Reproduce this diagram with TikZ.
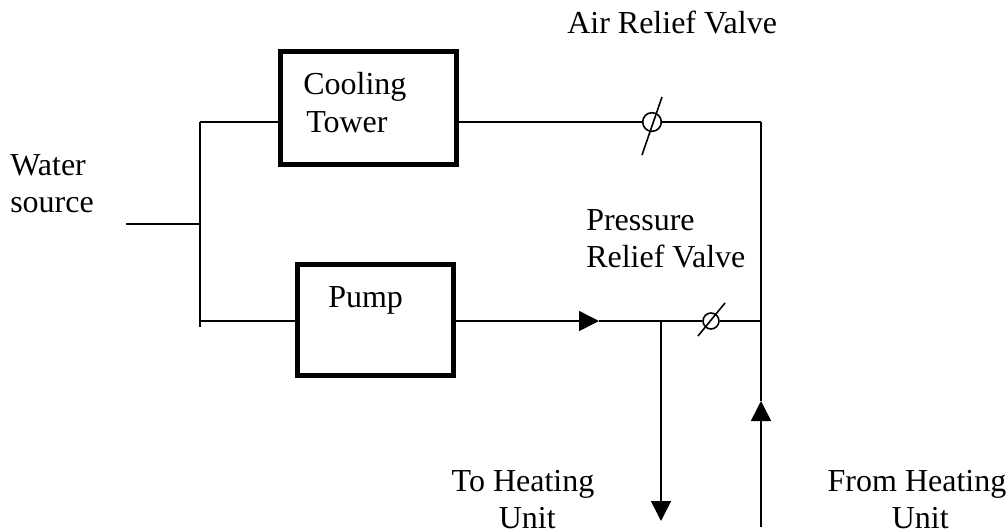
\documentclass[tikz,border=0pt]{standalone}
\usepackage{fontspec}
\setmainfont{Liberation Serif}
\usetikzlibrary{arrows.meta, positioning, calc}
\tikzset{
    pipe/.style={line width=1.2pt},
    flowpipe/.style={pipe, -{Triangle[length=15pt, width=15pt]}},
    unitbox/.style={draw, rectangle, line width=3.75pt, inner sep=0pt},
    valve/.style={draw, circle, line width=1.2pt, inner sep=0pt},
    lbl/.style={inner sep=0pt, font=\fontsize{24}{27.75}\selectfont}
}
\begin{document}
\begin{tikzpicture}[x=0.75pt, y=-0.75pt]
        \useasboundingbox (0,0) rectangle (1008,529);
        % Nodes
        \node[unitbox, minimum width=132pt, minimum height=84.75pt] (tower) at (368.5,108) {};
        \node[unitbox, minimum width=117pt, minimum height=83.25pt] (pump) at (375,320) {};
        \node[valve, minimum size=14pt] (airvalve) at (652,122) {};
        \node[valve, minimum size=12pt] (pressvalve) at (711,321) {};

        % Labels
        \node[lbl, anchor=base west] (airlabel) at (567,33) {Air Relief Valve};
        \node[lbl, anchor=base west] (coolinglabel) at (303,94) {Cooling};
        \node[lbl, anchor=base west] (towerlabel) at (306,132) {Tower};
        \node[lbl, anchor=base west] (pumplabel) at (328,307) {Pump};
        \node[lbl, align=left, anchor=west] (sourcelabel) at (10,184) {Water\\source};
        \node[lbl, align=left, anchor=west] (presslabel) at (586,239) {Pressure\\Relief Valve};
        \node[lbl, align=center] (tolabel) at (523,500) {To Heating\\\hspace*{6.5pt}Unit};
        \node[lbl, align=center] (fromlabel) at (917,500) {From Heating\\\hspace*{5pt}Unit};

        % Free ends
        \coordinate (inlet) at (126,224);
        \coordinate (inletjoin) at (200,224);
        \coordinate (towerjoin) at (200,122);
        \coordinate (pumpjoin) at (200,321);
        \coordinate (splitend) at (200,327);
        \coordinate (corner) at (761,122);
        \coordinate (pumpflow) at (599,321);
        \coordinate (tee) at (661,321);
        \coordinate (teeright) at (761,321);
        \coordinate (supplytip) at (661,521);
        \coordinate (returnend) at (761,527);
        \coordinate (returntip) at (761,401);
        \coordinate (airslasha) at (642,155);
        \coordinate (airslashb) at (662,97);
        \coordinate (pressslasha) at (698,336);
        \coordinate (pressslashb) at (725,303);

        % Pipes
        \draw[pipe] (inlet) -- (inletjoin);
        \draw[pipe] (towerjoin) -- (splitend);
        \draw[pipe] (towerjoin) -- (towerjoin -| tower.west);
        \draw[pipe] (pumpjoin) -- (pumpjoin -| pump.west);
        \draw[pipe] (towerjoin -| tower.east) -- (airvalve);
        \draw[pipe] (airvalve) -- (corner);
        \draw[pipe] (corner) -- (returntip);
        \draw[flowpipe] (pumpjoin -| pump.east) -- (pumpflow);
        \draw[pipe] (pumpflow) -- (tee);
        \draw[pipe] (tee) -- (pressvalve);
        \draw[pipe] (pressvalve) -- (teeright);
        \draw[flowpipe] (tee) -- (supplytip);
        \draw[flowpipe] (returnend) -- (returntip);

        % Valve stems
        \draw[pipe] (airslasha) -- (airslashb);
        \draw[pipe] (pressslasha) -- (pressslashb);
    \end{tikzpicture}
\end{document}
